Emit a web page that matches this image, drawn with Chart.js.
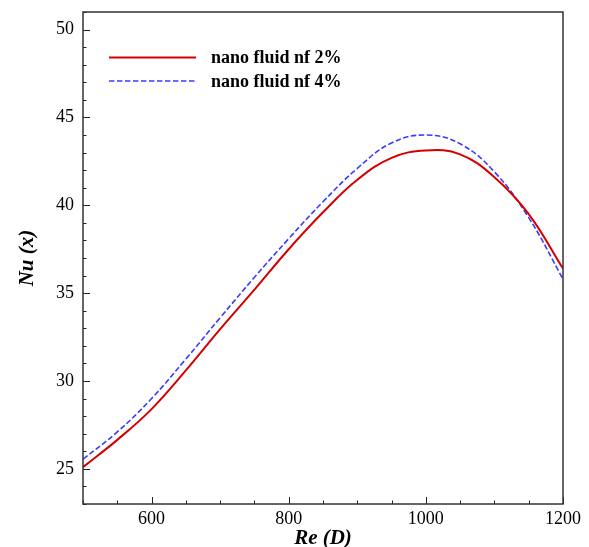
<!DOCTYPE html>
<html>
<head>
<meta charset="utf-8">
<script src="https://cdn.jsdelivr.net/npm/chart.js@4/dist/chart.umd.min.js"></script>
<style>
  html, body { margin: 0; padding: 0; background: #fff; }
  #wrap { width: 589px; height: 547px; }
</style>
</head>
<body>
<div id="wrap"><canvas id="grafico"></canvas></div>
<script>
// datos
const reynolds = [500, 550, 600, 650, 700, 750, 800, 850, 900, 950, 1000, 1050, 1100, 1150, 1200];
const nu2 = [25.1, 26.65, 28.4, 30.6, 32.95, 35.2, 37.5, 39.6, 41.45, 42.7, 43.12, 42.9, 41.6, 39.5, 36.4];
const nu4 = [25.55, 27.1, 29.0, 31.25, 33.6, 35.9, 38.1, 40.2, 42.1, 43.55, 44.0, 43.5, 41.9, 39.3, 35.8];
const xTicks = [600, 800, 1000, 1200];
const yTicks = [25, 30, 35, 40, 45, 50];
const etiquetas = ["nano fluid nf 2%", "nano fluid nf 4%"];

const FUENTE = "'Liberation Serif', 'Times New Roman', serif";

// ticks hacia dentro + leyenda dentro del grafico
const marcasInternas = {
  id: "marcasInternas",
  afterDraw(chart) {
    const ctx = chart.ctx;
    const x = chart.scales.x, y = chart.scales.y;
    const area = chart.chartArea;
    ctx.save();
    ctx.strokeStyle = "#222";
    ctx.lineWidth = 1;
    for (let v = x.min; v <= x.max; v += 50) {
      const px = Math.round(x.getPixelForValue(v)) + 0.5;
      const largo = xTicks.includes(v) ? 7 : 3.5;
      ctx.beginPath();
      ctx.moveTo(px, area.bottom);
      ctx.lineTo(px, area.bottom - largo);
      ctx.stroke();
    }
    for (let v = y.min; v <= y.max; v += 1) {
      const py = Math.round(y.getPixelForValue(v)) + 0.5;
      const largo = yTicks.includes(v) ? 7 : 3.5;
      ctx.beginPath();
      ctx.moveTo(area.left, py);
      ctx.lineTo(area.left + largo, py);
      ctx.stroke();
    }
    // marco
    ctx.strokeStyle = "#333";
    ctx.lineWidth = 1.5;
    ctx.strokeRect(area.left, area.top, area.right - area.left, area.bottom - area.top);

    // leyenda
    ctx.font = "bold 18px " + FUENTE;
    ctx.textBaseline = "middle";
    chart.data.datasets.forEach((ds, i) => {
      const ly = area.top + 45.5 + i * 23.5;
      ctx.strokeStyle = ds.borderColor;
      ctx.lineWidth = ds.borderWidth;
      ctx.setLineDash(ds.borderDash || []);
      ctx.beginPath();
      ctx.moveTo(area.left + 26, ly);
      ctx.lineTo(area.left + 113, ly);
      ctx.stroke();
      ctx.setLineDash([]);
      ctx.fillStyle = "#000";
      ctx.fillText(ds.label, area.left + 128, ly + 1);
    });
    ctx.restore();
  }
};

new Chart(document.getElementById("grafico"), {
  type: "line",
  data: {
    datasets: [
      {
        label: etiquetas[0],
        data: reynolds.map((r, i) => ({ x: r, y: nu2[i] })),
        borderColor: "#d40000",
        borderWidth: 2,
        pointRadius: 0,
        tension: 0.4,
        fill: false
      },
      {
        label: etiquetas[1],
        data: reynolds.map((r, i) => ({ x: r, y: nu4[i] })),
        borderColor: "#3a3aff",
        borderWidth: 1.6,
        borderDash: [5.5, 2.5],
        pointRadius: 0,
        tension: 0.4,
        fill: false
      }
    ]
  },
  options: {
    responsive: true,
    maintainAspectRatio: false,
    animation: false,
    layout: { padding: { top: 12, right: 26, left: 0, bottom: 0 } },
    plugins: {
      legend: { display: false },
      tooltip: { enabled: false }
    },
    scales: {
      x: {
        type: "linear",
        min: 500,
        max: 1200,
        afterBuildTicks: s => { s.ticks = xTicks.map(v => ({ value: v })); },
        afterFit: s => { s.height = 43; s.paddingLeft = 0; s.paddingRight = 0; },
        grid: { display: false, drawTicks: false },
        border: { display: false },
        ticks: {
          color: "#000",
          padding: 4,
          maxRotation: 0,
          callback: v => String(v),
          font: { family: FUENTE, size: 18 }
        },
        title: {
          display: true,
          text: "Re (D)",
          color: "#000",
          padding: { top: 0, bottom: -4 },
          font: { family: FUENTE, size: 21, weight: "bold", style: "italic" }
        }
      },
      y: {
        type: "linear",
        min: 23,
        max: 51,
        afterBuildTicks: s => { s.ticks = yTicks.map(v => ({ value: v })); },
        afterFit: s => { s.width = 83; s.paddingTop = 0; s.paddingBottom = 0; },
        grid: { display: false, drawTicks: false },
        border: { display: false },
        ticks: {
          color: "#000",
          padding: 9,
          callback: v => String(v),
          font: { family: FUENTE, size: 18 }
        },
        title: {
          display: true,
          text: "Nu (x)",
          color: "#000",
          padding: { top: 15, bottom: 0 },
          font: { family: FUENTE, size: 21, weight: "bold", style: "italic" }
        }
      }
    }
  },
  plugins: [marcasInternas]
});
</script>
</body>
</html>
